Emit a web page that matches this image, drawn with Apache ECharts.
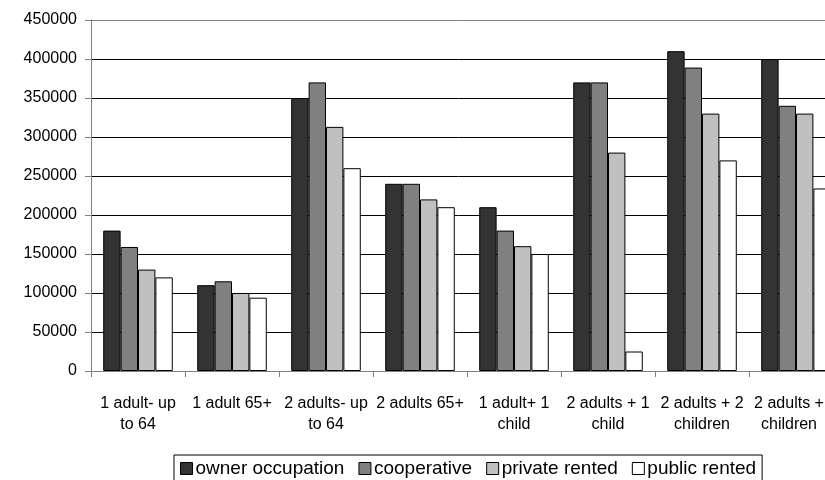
<!DOCTYPE html>
<html>
<head>
<meta charset="utf-8">
<script src="https://cdn.jsdelivr.net/npm/echarts@6/dist/echarts.min.js"></script>
<style>
html,body{margin:0;padding:0;background:#fff;}
#chart{width:825px;height:480px;}
</style>
</head>
<body>
<div id="chart"></div>
<script>
const categories = ['1 adult- up\nto 64', '1 adult 65+', '2 adults- up\nto 64', '2 adults 65+', '1 adult+ 1\nchild', '2 adults + 1\nchild', '2 adults + 2\nchildren', '2 adults +\nchildren'];
const seriesNames = ['owner occupation', 'cooperative', 'private rented', 'public rented'];
const ownerOccupation = [180000, 110000, 350000, 240000, 210000, 370000, 410000, 400000];
const cooperative = [159000, 115000, 370000, 240000, 180000, 370000, 389000, 340000];
const privateRented = [130000, 100000, 313000, 220000, 160000, 280000, 330000, 330000];
const publicRented = [120000, 94000, 260000, 210000, 150000, 25000, 270000, 234000];
const yTicks = [0, 50000, 100000, 150000, 200000, 250000, 300000, 350000, 400000, 450000];

const colors = ['#333333', '#808080', '#c0c0c0', '#ffffff'];
const values = [ownerOccupation, cooperative, privateRented, publicRented];
const FONT = 'Liberation Sans, Arial, sans-serif';

// last label nudged left so it stays inside the picture, as in the original
const categoryData = categories.map((c, i) => i === categories.length - 1
  ? {value: c, textStyle: {padding: [0, 14, 0, 0]}}
  : c);

const chart = echarts.init(document.getElementById('chart'), null, {renderer: 'canvas'});
chart.setOption({
  animation: false,
  backgroundColor: '#ffffff',
  grid: {left: 91, top: 20, width: 752, height: 351, containLabel: false, outerBoundsMode: 'none'},
  legend: {
    bottom: -2,
    left: 174,
    orient: 'horizontal',
    data: seriesNames,
    itemWidth: 12,
    itemHeight: 12,
    itemGap: 14,
    borderColor: '#000',
    borderWidth: 1,
    padding: [4, 6, 4, 6],
    icon: 'rect',
    itemStyle: {borderColor: '#000', borderWidth: 1},
    textStyle: {fontFamily: FONT, fontSize: 19, color: '#000', padding: [0, 0, 0, -2]}
  },
  xAxis: {
    type: 'category',
    data: categoryData,
    boundaryGap: true,
    axisLine: {lineStyle: {color: '#808080', width: 1}},
    axisTick: {show: true, alignWithLabel: false, length: 6, lineStyle: {color: '#808080'}},
    axisLabel: {interval: 0, fontFamily: FONT, fontSize: 16, color: '#000', lineHeight: 21, margin: 22}
  },
  yAxis: {
    type: 'value',
    min: yTicks[0],
    max: yTicks[yTicks.length - 1],
    interval: yTicks[1] - yTicks[0],
    axisLine: {show: true, lineStyle: {color: '#808080', width: 1}},
    axisTick: {show: true, length: 6, lineStyle: {color: '#808080'}},
    axisLabel: {fontFamily: FONT, fontSize: 16, color: '#000', margin: 14, formatter: v => String(v)},
    splitLine: {show: true, lineStyle: {color: ['#000', '#000', '#000', '#000', '#000', '#000', '#000', '#000', '#000', '#808080'], width: 1}}
  },
  series: seriesNames.map((name, i) => ({
    name: name,
    type: 'bar',
    data: values[i],
    barGap: '0%',
    barCategoryGap: '26%',
    itemStyle: {color: colors[i], borderColor: '#000', borderWidth: 1}
  }))
});
</script>
</body>
</html>
